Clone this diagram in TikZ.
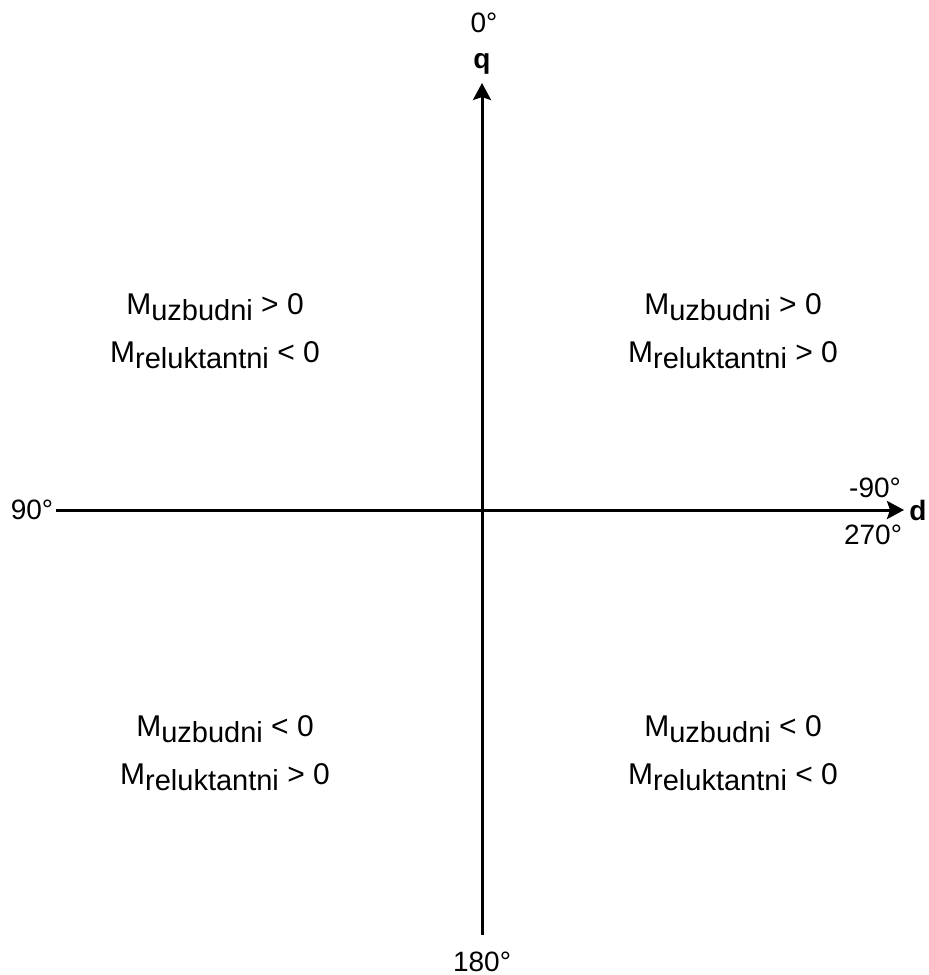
\documentclass[tikz,border=0pt]{standalone}
\usepackage{fontspec}
\setmainfont{Liberation Sans}
\usetikzlibrary{arrows.meta}
\tikzset{
  axis/.style={line width=1.5pt},
  lbl/.style={font=\fontsize{14}{17}\selectfont, inner sep=0pt},
  quad/.style={font=\fontsize{15}{24}\selectfont, align=center, inner sep=0pt}
}
\newcommand{\msub}[1]{M\raisebox{-3.2pt}{\fontsize{14.5}{17}\selectfont #1}}
\begin{document}
\begin{tikzpicture}[x=0.5pt,y=-0.5pt,>={Stealth[length=8.5pt,width=9pt,inset=1.5pt]}]
            \useasboundingbox (0,0) rectangle (928,975);
            \coordinate (west) at (56,510);
            \coordinate (east) at (904,510);
            \coordinate (south) at (482,935);
            \coordinate (north) at (482,83);
            \draw[axis,->] (west) -- (east);
            \draw[axis,->] (south) -- (north);
            % axis labels
            \node[lbl,font=\fontsize{14}{17}\selectfont\bfseries] (q) at (482,64) {q};
            \node[lbl] (deg0) at (484,23) {0°};
            \node[lbl,font=\fontsize{14}{17}\selectfont\bfseries] (d) at (918,510) {d};
            \node[lbl] (deg90) at (32,510) {90°};
            \node[lbl] (degm90) at (875,488) {-90°};
            \node[lbl] (deg270) at (873,535) {270°};
            \node[lbl] (deg180) at (482,962) {180°};
            % quadrants
            \node[quad] (ql) at (215,331) {\msub{uzbudni} > 0\\\msub{reluktantni} < 0};
            \node[quad] (qr) at (733,331) {\msub{uzbudni} > 0\\\msub{reluktantni} > 0};
            \node[quad] (bl) at (225,753) {\msub{uzbudni} < 0\\\msub{reluktantni} > 0};
            \node[quad] (br) at (733,753) {\msub{uzbudni} < 0\\\msub{reluktantni} < 0};
        \end{tikzpicture}
\end{document}
